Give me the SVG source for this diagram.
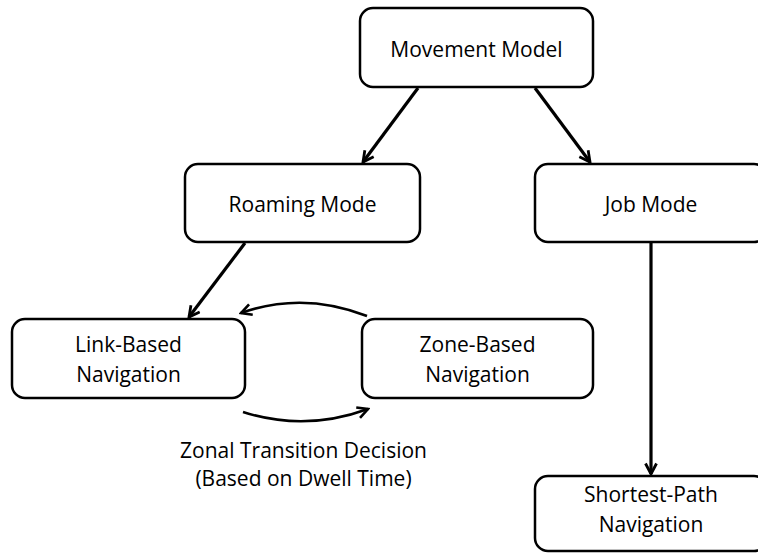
<svg xmlns="http://www.w3.org/2000/svg" width="758" height="553" viewBox="0 0 758 553">
<style>
.box{fill:#fff;stroke:#000;stroke-width:2.5}
.lbl{font-family:"Open Sans","Liberation Sans",sans-serif;font-size:21px;fill:#000;text-anchor:middle}
.arr{fill:none;stroke:#000;stroke-width:3.2;marker-end:url(#ah)}
.cur{fill:none;stroke:#000;stroke-width:2.6;marker-end:url(#ah2)}
</style>
<defs>
<marker id="ah" viewBox="0 0 14 14" refX="12" refY="7" markerWidth="14" markerHeight="14" markerUnits="userSpaceOnUse" orient="auto">
<path d="M1.5,1.5 L12,7 L1.5,12.5" fill="none" stroke="#000" stroke-width="2.8" stroke-linejoin="miter"/>
</marker>
<marker id="ah2" viewBox="0 0 14 14" refX="12" refY="7" markerWidth="14" markerHeight="14" markerUnits="userSpaceOnUse" orient="auto">
<path d="M1.5,1.5 L12,7 L1.5,12.5" fill="none" stroke="#000" stroke-width="2.6" stroke-linejoin="miter"/>
</marker>
</defs>
<g id="connectors">
<line class="arr" x1="418" y1="88" x2="363" y2="162"/>
<line class="arr" x1="535" y1="88" x2="590" y2="162"/>
<line class="arr" x1="245" y1="243" x2="189" y2="317"/>
<line class="arr" x1="651" y1="243" x2="651" y2="474"/>
<path class="cur" d="M367,316 Q303,291 241,313"/>
<path class="cur" d="M243,412 Q305,432 368,409"/>
</g>
<g id="movement-model">
<rect class="box" x="360" y="8" width="233" height="79" rx="13"/>
<text class="lbl" x="476.5" y="57">Movement Model</text>
</g>
<g id="roaming-mode">
<rect class="box" x="185" y="164" width="235" height="78" rx="13"/>
<text class="lbl" x="302.5" y="212">Roaming Mode</text>
</g>
<g id="job-mode">
<rect class="box" x="535" y="164" width="232" height="78" rx="13"/>
<text class="lbl" x="651" y="212">Job Mode</text>
</g>
<g id="link-based">
<rect class="box" x="12" y="319" width="233" height="79" rx="13"/>
<text class="lbl" x="128.5" y="352">Link-Based</text>
<text class="lbl" x="128.5" y="382">Navigation</text>
</g>
<g id="zone-based">
<rect class="box" x="362" y="319" width="231" height="79" rx="13"/>
<text class="lbl" x="477.5" y="352">Zone-Based</text>
<text class="lbl" x="477.5" y="382">Navigation</text>
</g>
<g id="shortest-path">
<rect class="box" x="535" y="476" width="232" height="75" rx="13"/>
<text class="lbl" x="651" y="502">Shortest-Path</text>
<text class="lbl" x="651" y="532">Navigation</text>
</g>
<g id="transition-label">
<text class="lbl" x="303.5" y="458">Zonal Transition Decision</text>
<text class="lbl" x="303.5" y="486">(Based on Dwell Time)</text>
</g>
</svg>
